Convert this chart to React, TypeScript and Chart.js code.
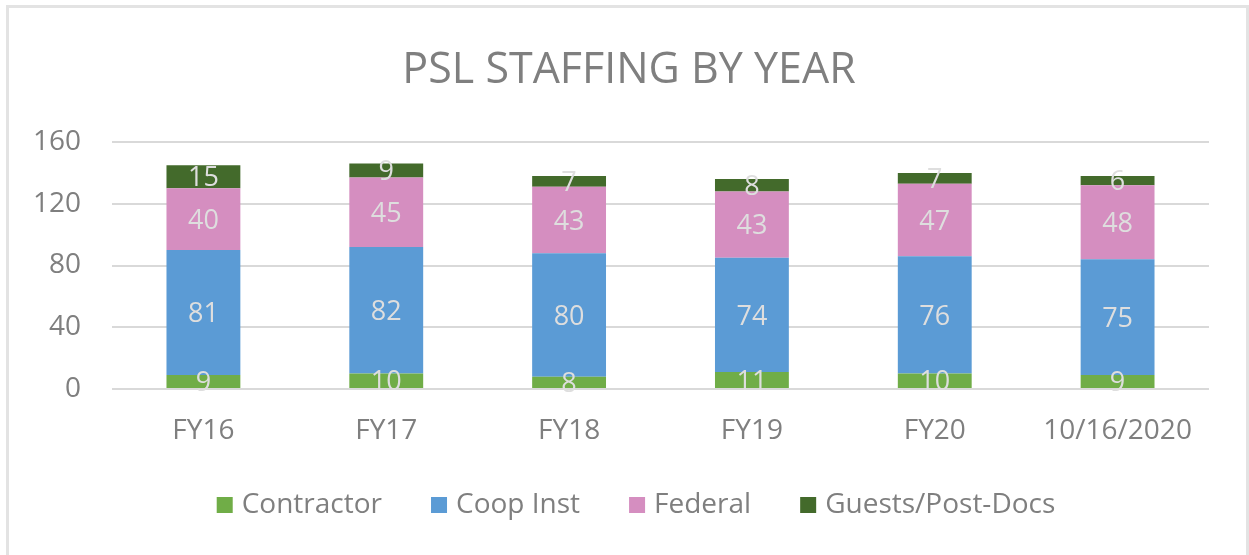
import React, { useEffect, useRef } from "react";
import { Chart, registerables } from "chart.js";

Chart.register(...registerables);

const title = "PSL STAFFING BY YEAR";
const categories = ["FY16", "FY17", "FY18", "FY19", "FY20", "10/16/2020"];
const contractor = [9, 10, 8, 11, 10, 9];
const coopInst = [81, 82, 80, 74, 76, 75];
const federal = [40, 45, 43, 43, 47, 48];
const guests = [15, 9, 7, 8, 7, 6];
const seriesNames = ["Contractor", "Coop Inst", "Federal", "Guests/Post-Docs"];
const seriesColors = ["#70ad47", "#5b9bd5", "#d58ec0", "#436a2b"];
const yTicks = [0, 40, 80, 120, 160];

const FONT = "'Open Sans', sans-serif";
const TEXT_GRAY = "#7f7f7f";

const labelsPlugin = {
  id: "segLabels",
  afterDatasetsDraw(chart: any) {
    const ctx = chart.ctx;
    ctx.save();
    ctx.font = `27px ${FONT}`;
    ctx.fillStyle = "#dedede";
    ctx.textAlign = "center";
    ctx.textBaseline = "alphabetic";
    chart.data.datasets.forEach((ds: any, di: number) => {
      const meta = chart.getDatasetMeta(di);
      meta.data.forEach((el: any, i: number) => {
        const v = ds.data[i];
        const cy = (el.y + el.base) / 2;
        ctx.fillText(String(v), el.x, cy + 0.357 * 27);
      });
    });
    ctx.restore();
  },
};

const titleLegendPlugin = {
  id: "titleLegend",
  afterDraw(chart: any) {
    const ctx = chart.ctx;
    ctx.save();
    ctx.fillStyle = TEXT_GRAY;
    ctx.font = `43px ${FONT}`;
    ctx.textAlign = "center";
    ctx.textBaseline = "alphabetic";
    ctx.fillText(title, 629, 83);

    // legend
    ctx.font = `28px ${FONT}`;
    ctx.textAlign = "left";
    const box = 16;
    const gapBoxText = 9;
    const gapItems = 49;
    const widths = seriesNames.map((n) => ctx.measureText(n).width);
    let total = 0;
    widths.forEach((w, i) => {
      total += box + gapBoxText + w + (i < widths.length - 1 ? gapItems : 0);
    });
    let x = 636 - total / 2;
    const baseline = 513;
    seriesNames.forEach((n, i) => {
      ctx.fillStyle = seriesColors[i];
      ctx.fillRect(x, 497, box, box);
      ctx.fillStyle = TEXT_GRAY;
      ctx.fillText(n, x + box + gapBoxText, baseline);
      x += box + gapBoxText + widths[i] + gapItems;
    });
    ctx.restore();
  },
};

export default function App() {
  const ref = useRef<HTMLCanvasElement | null>(null);
  useEffect(() => {
    if (!ref.current) return;
    const data = [contractor, coopInst, federal, guests];
    const chart = new Chart(ref.current, {
      type: "bar",
      data: {
        labels: categories,
        datasets: seriesNames.map((name, i) => ({
          label: name,
          data: data[i],
          backgroundColor: seriesColors[i],
          borderWidth: 0,
          barPercentage: 0.404,
          categoryPercentage: 1,
        })),
      },
      options: {
        responsive: false,
        animation: false,
        layout: { padding: { top: 142, right: 40, bottom: 106, left: 0 } },
        plugins: {
          legend: { display: false },
          title: { display: false },
          tooltip: { enabled: false },
        },
        scales: {
          x: {
            stacked: true,
            grid: { display: false, drawTicks: false },
            border: { display: false },
            ticks: {
              color: TEXT_GRAY,
              font: { family: FONT, size: 28 },
              padding: 25,
              maxRotation: 0,
              autoSkip: false,
            },
            afterFit: (s: any) => {
              s.height = 60;
            },
          },
          y: {
            stacked: true,
            min: 0,
            max: 160,
            afterBuildTicks: (s: any) => {
              s.ticks = yTicks.map((v) => ({ value: v }));
            },
            grid: { color: "#d9d9d9", lineWidth: 2, drawTicks: false },
            border: { display: false },
            ticks: {
              color: TEXT_GRAY,
              font: { family: FONT, size: 28 },
              padding: 31,
            },
            afterFit: (s: any) => {
              s.width = 112;
            },
          },
        },
      },
      plugins: [labelsPlugin, titleLegendPlugin],
    });
    return () => chart.destroy();
  }, []);

  return (
    <>
      <canvas
        ref={ref}
        width={1249}
        height={555}
        style={{ position: "absolute", left: 0, top: 0, width: 1249, height: 555 }}
      />
      <div
        style={{
          position: "absolute",
          left: 6,
          top: 5,
          width: 1243,
          height: 550,
          boxSizing: "border-box",
          border: "3px solid #e3e3e3",
          borderBottom: "none",
          pointerEvents: "none",
        }}
      />
    </>
  );
}
